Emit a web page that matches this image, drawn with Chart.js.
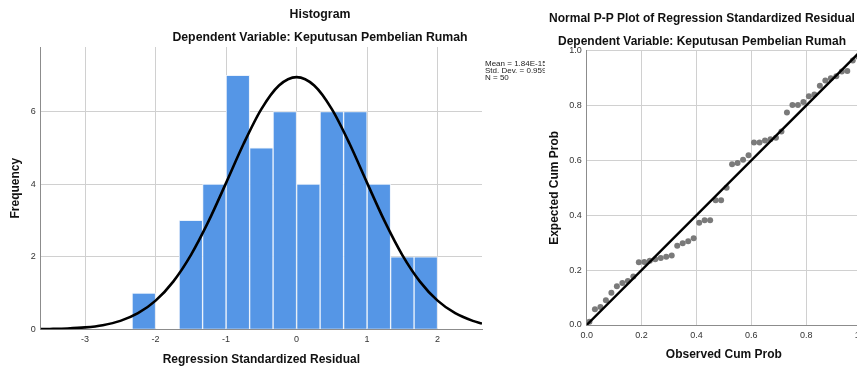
<!DOCTYPE html>
<html>
<head>
<meta charset="utf-8">
<script src="https://cdn.jsdelivr.net/npm/chart.js@4.4.1/dist/chart.umd.min.js"></script>
<style>
  html, body { margin: 0; padding: 0; background: #fff; width: 857px; height: 370px; overflow: hidden; }
  body { position: relative; font-family: "Liberation Sans", Arial, sans-serif; }
  .box { position: absolute; top: 0; height: 370px; }
  .ttl { position: absolute; font-weight: bold; color: #111; white-space: nowrap; transform: translate(-50%, -50%); font-size: 12.3px; }
  #stats { position: absolute; left: 485px; top: 60px; font-size: 8px; line-height: 7px; color: #222; white-space: nowrap; }
</style>
</head>
<body>
<div class="box" style="left:0;width:545px;"><canvas id="hist" width="545" height="370"></canvas></div>
<div id="stats">Mean = 1.84E-15<br>Std. Dev. = 0.959<br>N = 50</div>
<div class="box" style="left:545px;width:340px;background:#fff;"><canvas id="pp" width="340" height="370"></canvas></div>
<div class="ttl" style="left:320px;top:14px;">Histogram</div>
<div class="ttl" style="left:320px;top:37px;">Dependent Variable: Keputusan Pembelian Rumah</div>
<div class="ttl" style="left:702px;top:18px;font-size:12px;">Normal P-P Plot of Regression Standardized Residual</div>
<div class="ttl" style="left:702px;top:41px;font-size:12px;">Dependent Variable: Keputusan Pembelian Rumah</div>
<script>
// ---------- Histogram data ----------
const binCenters = [-2.167, -1.833, -1.5, -1.167, -0.833, -0.5, -0.167, 0.167, 0.5, 0.833, 1.167, 1.5, 1.833];
const binCounts  = [1, 0, 3, 4, 7, 5, 6, 4, 6, 6, 4, 2, 2];
// normal curve, values
const curveX = [-3.63, -3.5, -3.25, -3, -2.75, -2.5, -2.25, -2, -1.75, -1.5, -1.25, -1, -0.75, -0.5, -0.25, 0, 0.25, 0.5, 0.75, 1, 1.25, 1.5, 1.75, 2, 2.25, 2.5, 2.63];
const curveY = [0.005, 0.009, 0.022, 0.052, 0.114, 0.232, 0.443, 0.79, 1.315, 2.045, 2.973, 4.035, 5.119, 6.067, 6.718, 6.95, 6.718, 6.067, 5.119, 4.035, 2.973, 2.045, 1.315, 0.79, 0.443, 0.232, 0.16];
const histXTicks = [-3, -2, -1, 0, 1, 2];
const histYTicks = [0, 2, 4, 6];

// ---------- P-P plot data ----------
const observedCumProb = [0.01,0.03,0.05,0.07,0.09,0.11,0.13,0.15,0.17,0.19,0.21,0.23,0.25,0.27,0.29,0.31,0.33,0.35,0.37,0.39,0.41,0.43,0.45,0.47,0.49,0.51,0.53,0.55,0.57,0.59,0.61,0.63,0.65,0.67,0.69,0.71,0.73,0.75,0.77,0.79,0.81,0.83,0.85,0.87,0.89,0.91,0.93,0.95,0.97,0.99];
const expectedCumProb = [0.012,0.057,0.066,0.090,0.118,0.141,0.153,0.160,0.177,0.229,0.230,0.234,0.240,0.244,0.249,0.253,0.289,0.298,0.305,0.316,0.373,0.382,0.382,0.455,0.455,0.500,0.586,0.591,0.602,0.619,0.665,0.665,0.673,0.677,0.683,0.705,0.775,0.802,0.802,0.813,0.834,0.840,0.872,0.891,0.900,0.907,0.924,0.926,0.964,0.978];
const refLine = [0, 1];
const ppTicks = [0, 0.2, 0.4, 0.6, 0.8, 1.0];

const FONT = "'Liberation Sans', Arial, sans-serif";
const tickFont = { family: FONT, size: 9 };
const titleFont = { family: FONT, size: 12, weight: 'bold' };
const gridColor = '#d0d0d0';
const axisColor = '#8c8c8c';
const tickColor = '#333';

function setTicks(arr) { return s => { s.ticks = arr.map(v => ({ value: v })); }; }

new Chart(document.getElementById('hist'), {
  data: {
    datasets: [
      {
        type: 'line',
        data: curveX.map((x, i) => ({ x, y: curveY[i] })),
        borderColor: '#000', borderWidth: 2.6, pointRadius: 0,
        cubicInterpolationMode: 'monotone', fill: false, order: 0
      },
      {
        type: 'bar',
        data: binCenters.map((x, i) => ({ x, y: binCounts[i] })),
        backgroundColor: 'rgb(85,150,230)',
        borderColor: 'rgba(235,242,252,0.95)', borderWidth: 1,
        barPercentage: 1, categoryPercentage: 1, order: 1
      }
    ]
  },
  options: {
    responsive: false, animation: false,
    layout: { padding: { left: 0, top: 47, right: 63, bottom: 0 } },
    plugins: { legend: { display: false }, tooltip: { enabled: false } },
    scales: {
      x: {
        type: 'linear', min: -3.63, max: 2.63, offset: false,
        afterBuildTicks: setTicks(histXTicks),
        afterFit: s => { s.height = 40.7; },
        grid: { color: gridColor, drawTicks: false, lineWidth: 1, offset: false },
        border: { color: axisColor, width: 1 },
        ticks: { font: tickFont, color: tickColor, padding: 5, maxRotation: 0 },
        title: { display: true, text: 'Regression Standardized Residual', font: titleFont, color: '#111', padding: { top: 0, bottom: 3 } }
      },
      y: {
        min: 0, max: 7.78,
        afterBuildTicks: setTicks(histYTicks),
        afterFit: s => { s.width = 40.7; },
        grid: { color: gridColor, drawTicks: false, lineWidth: 1 },
        border: { color: axisColor, width: 1 },
        ticks: { font: tickFont, color: tickColor, padding: 5 },
        title: { display: true, text: 'Frequency', font: titleFont, color: '#111', padding: { top: 8, bottom: 0 } }
      }
    }
  }
});

new Chart(document.getElementById('pp'), {
  type: 'scatter',
  data: {
    datasets: [
      {
        type: 'line',
        data: refLine.map(v => ({ x: v, y: v })),
        borderColor: '#000', borderWidth: 2.4, pointRadius: 0, fill: false, order: 0
      },
      {
        type: 'scatter',
        data: observedCumProb.map((x, i) => ({ x, y: expectedCumProb[i] })),
        backgroundColor: 'rgb(122,122,122)', borderColor: 'rgb(122,122,122)', borderWidth: 0,
        pointRadius: 3, order: 1
      }
    ]
  },
  options: {
    responsive: false, animation: false,
    layout: { padding: { left: 0, top: 50.7, right: 24, bottom: 0 } },
    plugins: { legend: { display: false }, tooltip: { enabled: false } },
    scales: {
      x: {
        type: 'linear', min: 0, max: 1,
        afterBuildTicks: setTicks(ppTicks),
        afterFit: s => { s.height = 45; },
        grid: { color: gridColor, drawTicks: false, lineWidth: 1 },
        border: { color: axisColor, width: 1 },
        ticks: { font: tickFont, color: tickColor, padding: 5, maxRotation: 0, callback: v => v.toFixed(1) },
        title: { display: true, text: 'Observed Cum Prob', font: titleFont, color: '#111', padding: { top: 0, bottom: 8.5 } }
      },
      y: {
        type: 'linear', min: 0, max: 1,
        afterBuildTicks: setTicks(ppTicks),
        afterFit: s => { s.width = 41.7; },
        grid: { color: gridColor, drawTicks: false, lineWidth: 1 },
        border: { color: axisColor, width: 1 },
        ticks: { font: tickFont, color: tickColor, padding: 5, callback: v => v.toFixed(1) },
        title: { display: true, text: 'Expected Cum Prob', font: titleFont, color: '#111', padding: { top: 2, bottom: 0 } }
      }
    }
  }
});
</script>
</body>
</html>
